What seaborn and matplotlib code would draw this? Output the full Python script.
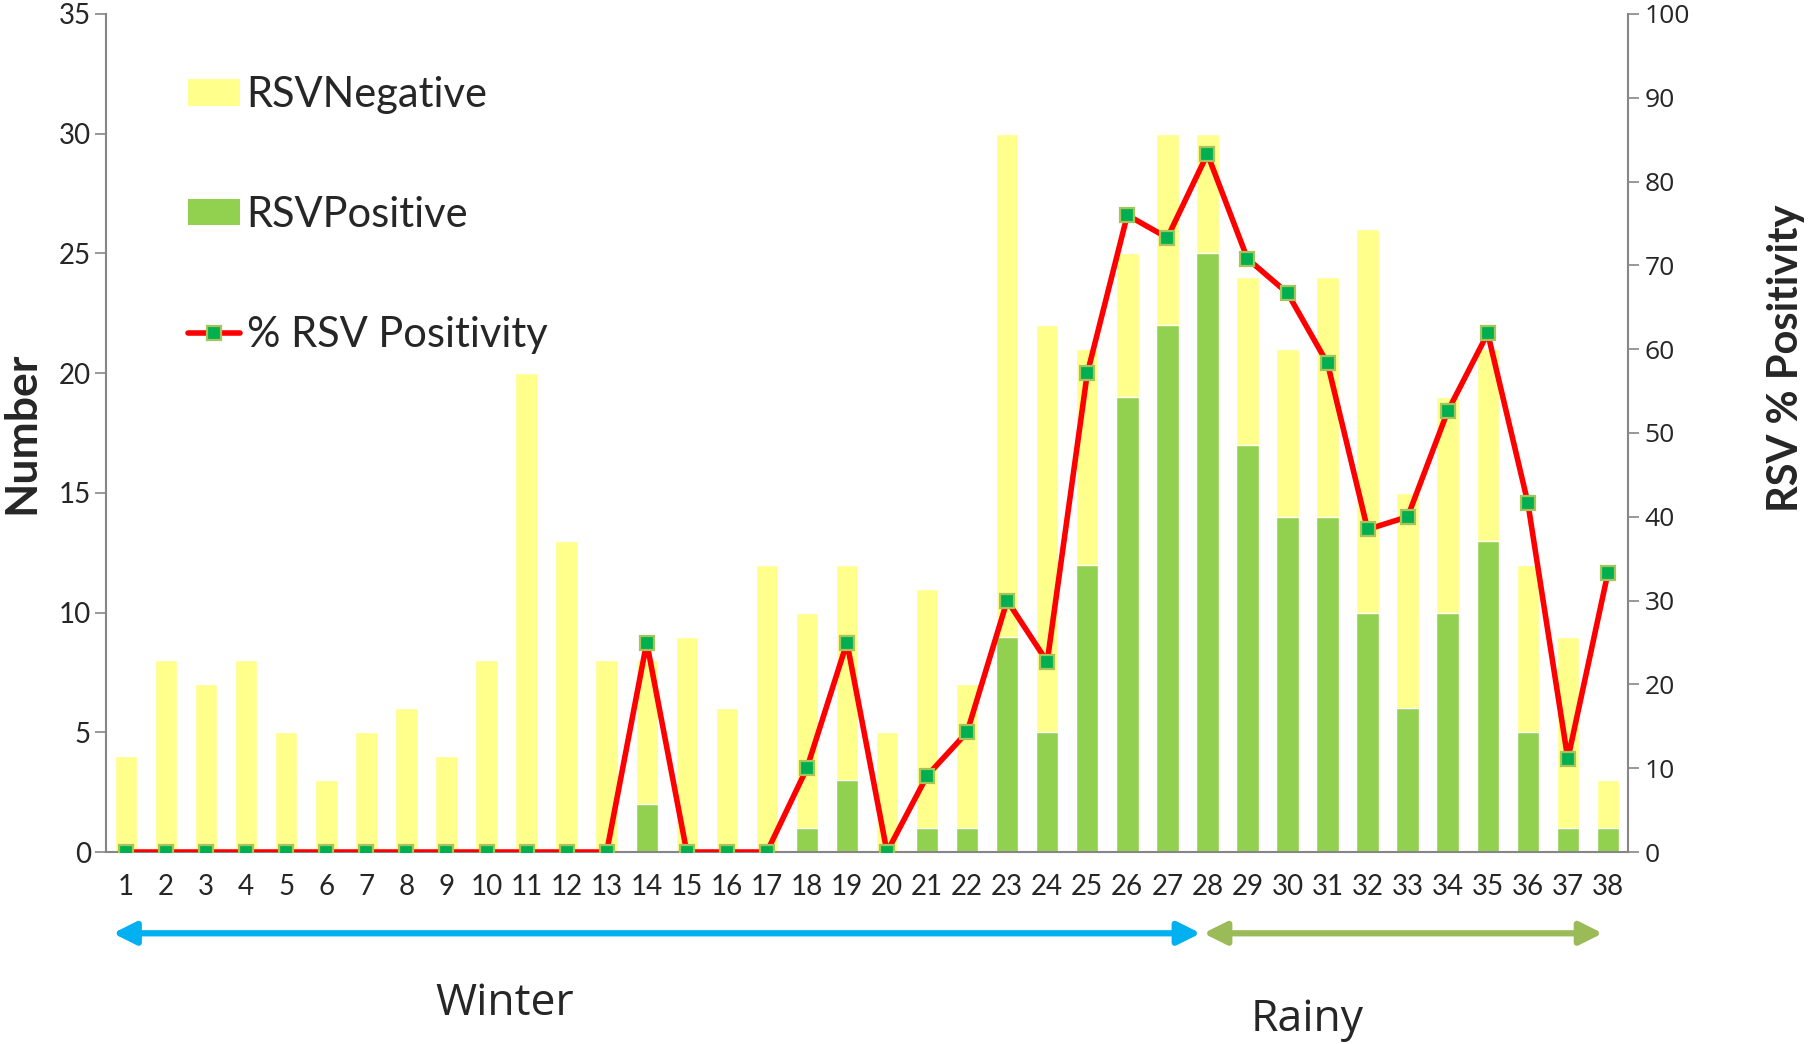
import numpy as np
import pandas as pd
import matplotlib
matplotlib.use("Agg")
import matplotlib.pyplot as plt
import seaborn as sns
from matplotlib.patches import Patch
from matplotlib.lines import Line2D

# ---------------- data ----------------
weeks = list(range(1, 39))
total_tested = [4, 8, 7, 8, 5, 3, 5, 6, 4, 8, 20, 13, 8, 8, 9, 6, 12, 10, 12, 5,
                11, 7, 30, 22, 21, 25, 30, 30, 24, 21, 24, 26, 15, 19, 21, 12, 9, 3]
rsv_positive = [0, 0, 0, 0, 0, 0, 0, 0, 0, 0, 0, 0, 0, 2, 0, 0, 0, 1, 3, 0,
                1, 1, 9, 5, 12, 19, 22, 25, 17, 14, 14, 10, 6, 10, 13, 5, 1, 1]
pct_positivity = [0, 0, 0, 0, 0, 0, 0, 0, 0, 0, 0, 0, 0, 25, 0, 0, 0, 10, 25, 0,
                  9.1, 14.3, 30, 22.7, 57.1, 76, 73.3, 83.3, 70.8, 66.7, 58.3, 38.5,
                  40, 52.6, 61.9, 41.7, 11.1, 33.3]
left_ticks = [0, 5, 10, 15, 20, 25, 30, 35]
right_ticks = [0, 10, 20, 30, 40, 50, 60, 70, 80, 90, 100]
legend_labels = ["RSVNegative", "RSVPositive", "% RSV Positivity"]
season_labels = ["Winter", "Rainy"]

df = pd.DataFrame({"week": weeks, "total": total_tested,
                   "positive": rsv_positive, "pct": pct_positivity})

YELLOW = "#FFFF8C"
GREEN = "#92D050"
RED = "#FF0000"
MK_FACE = "#00B050"
MK_EDGE = "#A6C45A"
AXIS_GRAY = "#868686"

sns.set_style("white")
plt.rcParams["font.family"] = ["Lato", "DejaVu Sans"]

fig = plt.figure(figsize=(18.10, 10.44), dpi=100)
ax = fig.add_axes([0.0586, 0.1839, 0.8408, 0.8027])

sns.barplot(data=df, x="week", y="total", native_scale=True, color=YELLOW,
            saturation=1, width=0.56, errorbar=None, ax=ax, zorder=1)
sns.barplot(data=df, x="week", y="positive", native_scale=True, color=GREEN,
            saturation=1, width=0.56, errorbar=None, ax=ax, zorder=2)

ax.set_xlim(0.5, 38.5)
ax.set_ylim(0, 35)
ax.set_yticks(left_ticks)
ax.set_xticks(weeks)
ax.set_xticklabels([str(w) for w in weeks], fontsize=20)
ax.tick_params(axis="x", length=0, pad=16)
ax.tick_params(axis="y", length=8, width=1.2, color=AXIS_GRAY, pad=3,
               labelsize=20, direction="out")
ax.set_xlabel("")
ax.set_ylabel("")
for s in ["top", "right"]:
    ax.spines[s].set_visible(False)
for s in ["left", "bottom"]:
    ax.spines[s].set_color(AXIS_GRAY)
    ax.spines[s].set_linewidth(1.5)

ax2 = ax.twinx()
sns.lineplot(data=df, x="week", y="pct", ax=ax2, color=RED, linewidth=4,
             marker="s", markersize=10.5, markerfacecolor=MK_FACE,
             markeredgecolor=MK_EDGE, markeredgewidth=1.6, legend=False)
ax2.set_ylim(0, 100)
ax2.set_yticks(right_ticks)
ax2.set_ylabel("")
ax2.set_xlim(0.5, 38.5)
for s in ["top", "left", "bottom"]:
    ax2.spines[s].set_visible(False)
ax2.spines["right"].set_color(AXIS_GRAY)
ax2.spines["right"].set_linewidth(1.5)
ax2.tick_params(axis="y", length=8, width=1.2, color=AXIS_GRAY, pad=4,
                labelsize=20, direction="out")
for lab in ax2.get_yticklabels():
    lab.set_fontfamily(["Open Sans", "DejaVu Sans"])
    lab.set_fontsize(19)

# axis titles
fig.text(0.0116, 0.585, "Number", rotation=90, ha="center", va="center",
         fontsize=32, fontweight="bold")
fig.text(0.987, 0.657, "RSV % Positivity", rotation=90, ha="center", va="center",
         fontsize=30, fontweight="bold")

# legend
handles = [Patch(facecolor=YELLOW, edgecolor="none"),
           Patch(facecolor=GREEN, edgecolor="none"),
           Line2D([0], [0], color=RED, lw=4, marker="s", markersize=10.5,
                  markerfacecolor=MK_FACE, markeredgecolor=MK_EDGE,
                  markeredgewidth=1.6)]
fig.legend(handles, legend_labels, loc="upper left",
           bbox_to_anchor=(0.104, 0.927), bbox_transform=fig.transFigure,
           frameon=False, fontsize=30, labelspacing=1.96, handlelength=1.25,
           handleheight=0.6, handletextpad=0.15, borderpad=0, borderaxespad=0)

# season arrows
trans = ax.get_xaxis_transform()
ax.annotate("", xy=(27.83, -0.097), xytext=(0.67, -0.097), xycoords=trans,
            textcoords=trans, annotation_clip=False,
            arrowprops=dict(arrowstyle="<|-|>", color="#00B0F0", lw=4.5,
                            mutation_scale=34, shrinkA=0, shrinkB=0))
ax.annotate("", xy=(37.87, -0.097), xytext=(27.9, -0.097), xycoords=trans,
            textcoords=trans, annotation_clip=False,
            arrowprops=dict(arrowstyle="<|-|>", color="#9BBB59", lw=4.5,
                            mutation_scale=34, shrinkA=0, shrinkB=0))
ax.text(10.45, -0.181, season_labels[0], transform=trans, ha="center",
        va="center", fontsize=32, family=["Open Sans", "DejaVu Sans"])
ax.text(30.49, -0.2, season_labels[1], transform=trans, ha="center",
        va="center", fontsize=32, family=["Open Sans", "DejaVu Sans"])

fig.savefig("out.png", dpi=100)
